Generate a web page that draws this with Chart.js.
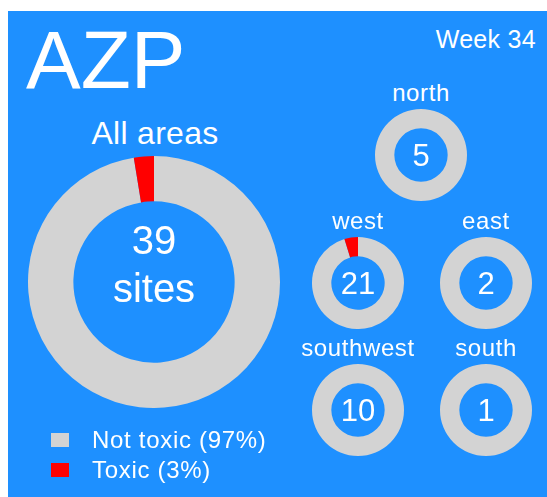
<!DOCTYPE html>
<html>
<head>
<meta charset="utf-8">
<script src="https://cdn.jsdelivr.net/npm/chart.js@4/dist/chart.umd.min.js"></script>
<style>
  body { margin: 0; background: #fff; font-family: "Liberation Sans", Arial, sans-serif; }
  #panel { position: absolute; left: 8px; top: 11px; width: 539px; height: 486px; background: #1e90ff; overflow: hidden; }
  .txt { position: absolute; color: #fff; line-height: 1; white-space: nowrap; }
  canvas { position: absolute; }
  .box { position: absolute; width: 18px; height: 14px; }
</style>
</head>
<body>
<script>
// data
const title = "AZP";
const weekLabel = "Week 34";
const statusLabels = ["Not toxic", "Toxic"];
const statusColors = ["#d3d3d3", "#ff0000"];
const areaNames = ["north", "west", "east", "southwest", "south"];
const siteCounts = [5, 21, 2, 10, 1];
const toxicCounts = [0, 1, 0, 0, 0];

// layout (page coords)
const mainPos = { cx: 154, cy: 282, r: 126 };
const smallPos = [
  { cx: 421, cy: 155 },
  { cx: 358, cy: 283 },
  { cx: 486, cy: 283 },
  { cx: 358, cy: 410 },
  { cx: 486, cy: 410 },
];
const smallR = 46;

const panel = document.createElement("div");
panel.id = "panel";
document.body.appendChild(panel);

function addText(text, x, baseline, size, align, spacing) {
  const d = document.createElement("div");
  d.className = "txt";
  d.textContent = text;
  d.style.fontSize = size + "px";
  if (spacing) d.style.letterSpacing = spacing + "px";
  d.style.top = (baseline - 0.8465 * size) + "px";
  if (align === "center") {
    d.style.left = (x - 200) + "px";
    d.style.width = "400px";
    d.style.textAlign = "center";
  } else if (align === "right") {
    d.style.right = (547 - x) + "px";
  } else {
    d.style.left = x + "px";
  }
  document.body.appendChild(d);
}

function makeDonut(cx, cy, r, values, cutout) {
  const c = document.createElement("canvas");
  c.width = r * 2;
  c.height = r * 2;
  c.style.left = (cx - r) + "px";
  c.style.top = (cy - r) + "px";
  document.body.appendChild(c);
  return new Chart(c.getContext("2d"), {
    type: "doughnut",
    data: {
      labels: statusLabels,
      datasets: [{
        data: values,
        backgroundColor: statusColors,
        borderWidth: 0,
      }],
    },
    options: {
      responsive: false,
      animation: false,
      cutout: cutout,
      plugins: { legend: { display: false }, tooltip: { enabled: false } },
    },
  });
}

const totalSites = siteCounts.reduce((a, b) => a + b, 0);
const totalToxic = toxicCounts.reduce((a, b) => a + b, 0);

makeDonut(mainPos.cx, mainPos.cy, mainPos.r, [totalSites - totalToxic, totalToxic], "64%");
addText(title, 26, 88, 82, "left");
addText(weekLabel, 536, 48, 25, "right", 0.3);
addText("All areas", mainPos.cx + 1, 144, 32, "center", 0.3);
addText(String(totalSites), mainPos.cx, 254, 40, "center");
addText("sites", mainPos.cx, 302, 40, "center");

for (let i = 0; i < areaNames.length; i++) {
  const p = smallPos[i];
  makeDonut(p.cx, p.cy, smallR, [siteCounts[i] - toxicCounts[i], toxicCounts[i]], "58%");
  addText(areaNames[i], p.cx, p.cy - smallR - 8, 24, "center", 0.6);
  addText(String(siteCounts[i]), p.cx, p.cy + 0.358 * 31, 31, "center");
}

// legend
const pct = [
  Math.round((totalSites - totalToxic) / totalSites * 100),
  Math.round(totalToxic / totalSites * 100),
];
for (let i = 0; i < statusLabels.length; i++) {
  const b = document.createElement("div");
  b.className = "box";
  b.style.left = "51px";
  b.style.top = (433 + i * 30) + "px";
  b.style.background = statusColors[i];
  document.body.appendChild(b);
  addText(statusLabels[i] + " (" + pct[i] + "%)", 92, 448 + i * 30, 24, "left", 0.7);
}
</script>
</body>
</html>
